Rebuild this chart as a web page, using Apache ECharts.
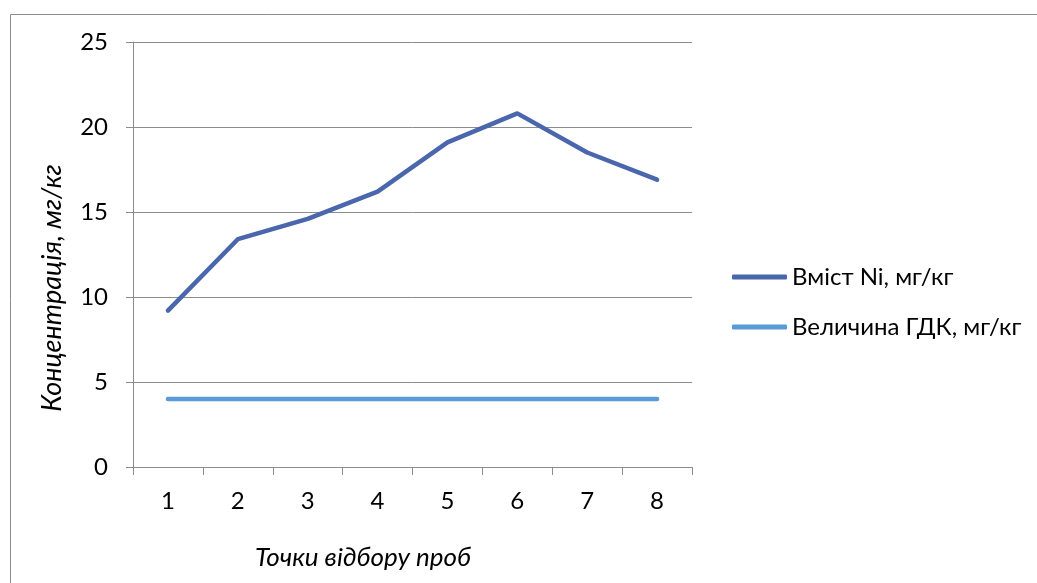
<!DOCTYPE html>
<html>
<head>
<meta charset="utf-8">
<script src="https://cdn.jsdelivr.net/npm/echarts@6/dist/echarts.min.js"></script>
<style>
  html, body { margin: 0; padding: 0; background: #fff; }
  #chart { width: 1037px; height: 583px; }
</style>
</head>
<body>
<div id="chart"></div>
<script>
// Sampling points and measured concentrations
const categories = ['1', '2', '3', '4', '5', '6', '7', '8'];
const niContent = [9.2, 13.4, 14.6, 16.2, 19.1, 20.8, 18.5, 16.9];
const mpcValue = [4, 4, 4, 4, 4, 4, 4, 4];
const seriesNames = ['Вміст Ni, мг/кг', 'Величина ГДК, мг/кг'];
const xTitle = 'Точки відбору проб';
const yTitle = 'Концентрація, мг/кг';

const FONT = 'Lato, "Open Sans", sans-serif';
const GRID_COLOR = '#8c8c8c';

const chart = echarts.init(document.getElementById('chart'), null, { renderer: 'canvas' });

chart.setOption({
  animation: false,
  backgroundColor: '#ffffff',
  grid: { left: 133, right: 345, top: 42, bottom: 116, containLabel: false },
  xAxis: {
    type: 'category',
    data: categories,
    boundaryGap: true,
    axisLine: { show: true, lineStyle: { color: GRID_COLOR, width: 1 } },
    axisTick: { show: true, alignWithLabel: false, length: 8, lineStyle: { color: GRID_COLOR } },
    axisLabel: { color: '#000', fontFamily: FONT, fontSize: 24, margin: 22 },
    splitLine: { show: false }
  },
  yAxis: {
    type: 'value',
    min: 0,
    max: 25,
    interval: 5,
    axisLine: { show: true, lineStyle: { color: GRID_COLOR, width: 1 } },
    axisTick: { show: true, inside: false, length: 7, lineStyle: { color: GRID_COLOR } },
    axisLabel: { color: '#000', fontFamily: FONT, fontSize: 24, margin: 25 },
    splitLine: { show: true, lineStyle: { color: GRID_COLOR, width: 1 } }
  },
  legend: {
    orient: 'vertical',
    left: 732,
    top: 263,
    padding: 0,
    itemWidth: 55,
    itemHeight: 5,
    itemGap: 22,
    itemTextGap: 3,
    icon: 'roundRect',
    textStyle: { fontFamily: FONT, fontSize: 24, color: '#000', lineHeight: 28 },
    data: seriesNames
  },
  series: [
    {
      name: seriesNames[0],
      type: 'line',
      data: niContent,
      symbol: 'none',
      color: '#4a66ac',
      lineStyle: { color: '#4a66ac', width: 4.5, cap: 'round', join: 'round' }
    },
    {
      name: seriesNames[1],
      type: 'line',
      data: mpcValue,
      symbol: 'none',
      color: '#5b9bd5',
      lineStyle: { color: '#5b9bd5', width: 4.5, cap: 'round', join: 'round' }
    }
  ],
  graphic: [
    {
      type: 'rect',
      left: 8, top: 12,
      shape: { width: 1100, height: 700 },
      style: { fill: 'none', stroke: GRID_COLOR, lineWidth: 1 },
      silent: true
    },
    {
      type: 'text',
      x: 363, y: 558,
      style: {
        text: xTitle,
        fontFamily: FONT, fontSize: 26, fontStyle: 'italic',
        fill: '#000', align: 'center', verticalAlign: 'middle'
      }
    },
    {
      type: 'text',
      x: 52, y: 288,
      rotation: Math.PI / 2,
      style: {
        text: yTitle,
        fontFamily: FONT, fontSize: 27, fontStyle: 'italic',
        fill: '#000', align: 'center', verticalAlign: 'middle'
      }
    }
  ]
});
</script>
</body>
</html>
